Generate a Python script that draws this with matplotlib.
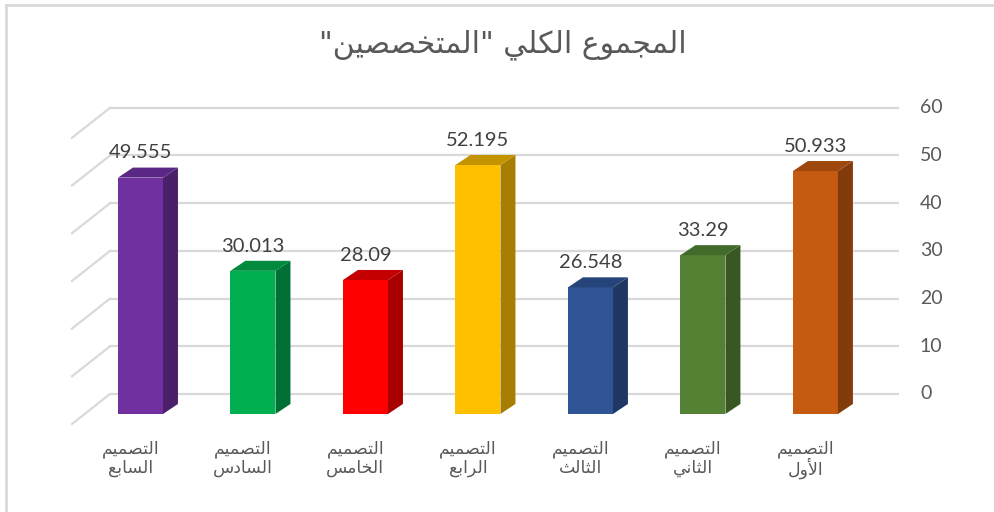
import matplotlib
matplotlib.use("Agg")
import matplotlib.pyplot as plt
from matplotlib.patches import Polygon
from matplotlib.lines import Line2D

# data (left to right as drawn)
designs = ["التصميم السابع", "التصميم السادس", "التصميم الخامس", "التصميم الرابع",
           "التصميم الثالث", "التصميم الثاني", "التصميم الأول"]
totals = [49.555, 30.013, 28.09, 52.195, 26.548, 33.29, 50.933]
value_labels = ["49.555", "30.013", "28.09", "52.195", "26.548", "33.29", "50.933"]
y_ticks = [0, 10, 20, 30, 40, 50, 60]
title = 'المجموع الكلي "المتخصصين"'

front_colors = ["#7030A0", "#00B050", "#FF0000", "#FFC000", "#2F5597", "#548235", "#C55A11"]
side_colors = ["#4B206B", "#007034", "#A80000", "#A87E00", "#1F3863", "#385723", "#823B0B"]
top_colors = ["#5B2784", "#008A3E", "#C40000", "#C49300", "#254479", "#426A2A", "#9E480E"]

GRAY = "#595959"
GRID = "#D9D9D9"

# --- minimal arabic shaping (matplotlib does no shaping / bidi) ---
FORMS = {
    "ا": ("\uFE8D", "\uFE8E"), "أ": ("\uFE83", "\uFE84"),
    "د": ("\uFEA9", "\uFEAA"), "ر": ("\uFEAD", "\uFEAE"), "و": ("\uFEED", "\uFEEE"),
    "ب": ("\uFE8F", "\uFE90", "\uFE91", "\uFE92"), "ت": ("\uFE95", "\uFE96", "\uFE97", "\uFE98"),
    "ث": ("\uFE99", "\uFE9A", "\uFE9B", "\uFE9C"), "ج": ("\uFE9D", "\uFE9E", "\uFE9F", "\uFEA0"),
    "خ": ("\uFEA5", "\uFEA6", "\uFEA7", "\uFEA8"), "س": ("\uFEB1", "\uFEB2", "\uFEB3", "\uFEB4"),
    "ص": ("\uFEB9", "\uFEBA", "\uFEBB", "\uFEBC"), "ع": ("\uFEC9", "\uFECA", "\uFECB", "\uFECC"),
    "ك": ("\uFED9", "\uFEDA", "\uFEDB", "\uFEDC"), "ل": ("\uFEDD", "\uFEDE", "\uFEDF", "\uFEE0"),
    "م": ("\uFEE1", "\uFEE2", "\uFEE3", "\uFEE4"), "ن": ("\uFEE5", "\uFEE6", "\uFEE7", "\uFEE8"),
    "ي": ("\uFEF1", "\uFEF2", "\uFEF3", "\uFEF4"),
}
LAM_ALEF = {"ا": ("\uFEFB", "\uFEFC"), "أ": ("\uFEF7", "\uFEF8")}


def shape(s):
    out = []
    i = 0
    while i < len(s):
        c = s[i]
        prev = s[i - 1] if i > 0 else ""
        joins_prev = prev in FORMS and len(FORMS[prev]) == 4
        if c == "ل" and i + 1 < len(s) and s[i + 1] in LAM_ALEF:
            out.append(LAM_ALEF[s[i + 1]][1 if joins_prev else 0])
            i += 2
            continue
        if c in FORMS:
            f = FORMS[c]
            nxt = s[i + 1] if i + 1 < len(s) else ""
            joins_next = len(f) == 4 and nxt in FORMS
            if joins_prev and joins_next:
                out.append(f[3])
            elif joins_prev:
                out.append(f[1])
            elif joins_next:
                out.append(f[2])
            else:
                out.append(f[0])
        else:
            out.append(c)
        i += 1
    return "".join(out)[::-1]


fig = plt.figure(figsize=(9.95, 5.12), dpi=100)
ax = fig.add_axes([0, 0, 1, 1])
ax.set_xlim(-1.249, 7.596)
ax.set_ylim(-20.55, 86.79)
ax.axis("off")

# 3d offsets (category units / value units)
bar_w = 0.4
dx, dy = 0.133, 2.1
wall_dy = 4.19
wall_x0, wall_x1 = -0.271, 6.733
side_x = -0.609
side_dy = -2.10

for v in y_ticks:
    ax.plot([wall_x0, wall_x1], [v + wall_dy, v + wall_dy], color=GRID, lw=1.6, zorder=1)
    ax.plot([side_x, wall_x0], [v + side_dy, v + wall_dy], color=GRID, lw=1.6, zorder=1)
    ax.text(6.929, v + wall_dy, str(v), ha="left", va="center", fontsize=14,
            color=GRAY, family="Lato")

xs = list(range(len(totals)))
ax.bar(xs, totals, width=bar_w, color=front_colors, zorder=3)
for x, v, sc, tc, lab in zip(xs, totals, side_colors, top_colors, value_labels):
    r = x + bar_w / 2
    l = x - bar_w / 2
    ax.add_patch(Polygon([(r, 0), (r + dx, dy), (r + dx, v + dy), (r, v)],
                         closed=True, color=sc, zorder=3, lw=0))
    ax.add_patch(Polygon([(l, v), (l + dx, v + dy), (r + dx, v + dy), (r, v)],
                         closed=True, color=tc, zorder=3, lw=0))
    ax.text(x, v + 5.2, lab, ha="center", va="center", fontsize=14.5, color="#404040",
            family="Lato", zorder=4)

for x, name in zip(xs, designs):
    first, second = name.split(" ")
    ax.text(x - 0.09, -7.3, shape(first), ha="center", va="center", fontsize=12.5,
            color=GRAY, family="DejaVu Sans")
    ax.text(x - 0.09, -11.4, shape(second), ha="center", va="center", fontsize=12.5,
            color=GRAY, family="DejaVu Sans")

fig.text(503 / 995, 1 - 45 / 512, shape(title), ha="center", va="center", fontsize=21.5,
         color=GRAY, family="DejaVu Sans")

# chart frame (only top/left visible in the crop)
fig.add_artist(Line2D([6 / 995, 1], [1 - 5 / 512, 1 - 5 / 512], transform=fig.transFigure,
                      color=GRID, lw=2))
fig.add_artist(Line2D([6 / 995, 6 / 995], [0, 1 - 5 / 512], transform=fig.transFigure,
                      color=GRID, lw=2))

fig.savefig("out.png", dpi=100)
